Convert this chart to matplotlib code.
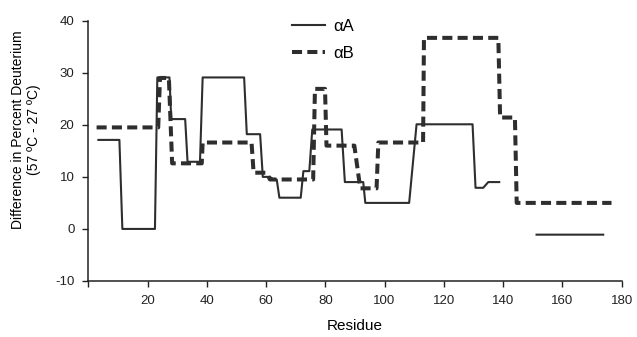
import matplotlib.pyplot as plt
import numpy as np

plt.rcParams['font.family'] = ['Liberation Sans', 'DejaVu Sans']
plt.rcParams['axes.unicode_minus'] = False

# alpha A (solid) - vertices of step trace, nan = gap
res_a = [3.4, 10.5, 11.5, 22.5, 23.3, 27.4, 28.0, 32.7, 33.5, 37.7, 38.6, 52.6,
         53.5, 58.0, 58.9, 61.3, 62.5, 63.6, 64.5, 71.7, 72.6, 74.6, 75.6, 85.5,
         86.6, 92.8, 93.5, 108.3, 110.8, 129.7, 130.7, 133.3, 135.0, 138.7,
         np.nan, 151.3, 173.8]
val_a = [17.1, 17.1, 0.0, 0.0, 29.1, 29.1, 21.1, 21.1, 12.9, 12.9, 29.1, 29.1,
         18.2, 18.2, 10.0, 10.0, 9.5, 9.5, 6.0, 6.0, 11.1, 11.1, 19.1, 19.1,
         9.0, 9.0, 5.0, 5.0, 20.1, 20.1, 7.9, 7.9, 9.0, 9.0,
         np.nan, -1.1, -1.1]

# alpha B (dashed)
res_b = [2.8, 23.6, 24.2, 27.2, 28.3, 38.3, 38.6, 55.1, 55.8, 60.2, 61.3, 75.9,
         76.5, 79.9, 80.4, 89.8, 91.8, 97.3, 97.9, 113.0, 113.3, 138.4, 139.0,
         144.0, 144.6, 176.6]
val_b = [19.5, 19.5, 29.0, 29.0, 12.6, 12.6, 16.6, 16.6, 10.8, 10.8, 9.5, 9.5,
         26.9, 26.9, 16.0, 16.0, 7.8, 7.8, 16.6, 16.6, 36.7, 36.7, 21.4,
         21.4, 5.0, 5.0]

xticks = [0, 20, 40, 60, 80, 100, 120, 140, 160, 180]
xlabels = ['', '20', '40', '60', '80', '100', '120', '140', '160', '180']
yticks = [-10, 0, 10, 20, 30, 40]

fig = plt.figure(figsize=(6.37, 3.37), dpi=100)
ax = fig.add_axes([0.1386, 0.1662, 0.8372, 0.7724])

col = '#2e2e2e'
ax.plot(res_a, val_a, color=col, lw=1.5, label='\u03b1A')
ax.plot(res_b, val_b, color=col, lw=2.9, ls=(0, (2.5, 1.3)), label='\u03b1B')

ax.set_xlim(0, 180)
ax.set_ylim(-10, 40)
ax.set_xticks(xticks)
ax.set_xticklabels(xlabels)
ax.set_yticks(yticks)
ax.tick_params(direction='out', length=4, width=1, labelsize=9.5, colors='#222222', pad=6)

for s in ['top', 'right']:
    ax.spines[s].set_visible(False)
for s in ['left', 'bottom']:
    ax.spines[s].set_linewidth(1.1)
    ax.spines[s].set_color('#222222')

ax.set_xlabel('Residue', fontsize=11, labelpad=9)
ax.set_ylabel('Difference in Percent Deuterium\n(57 \u00baC - 27 \u00baC)', fontsize=10,
              linespacing=1.25)
ax.yaxis.set_label_coords(-0.088, 0.58)

ax.legend(loc='upper left', bbox_to_anchor=(0.382, 1.008), frameon=False,
          fontsize=12, handlelength=2.0, handletextpad=0.45, labelspacing=0.75,
          borderaxespad=0, borderpad=0)

plt.savefig('out.png', dpi=100)
